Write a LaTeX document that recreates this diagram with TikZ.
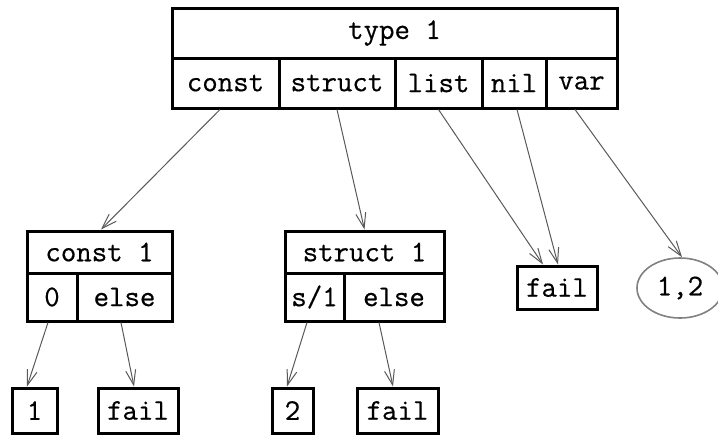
\documentclass[tikz,border=0pt]{standalone}
\usepackage{fontspec}
\newfontfamily\boxtt{Latin Modern Mono}[FakeBold=0.5]
\usetikzlibrary{arrows.meta,shapes.geometric}
\begin{document}
\begin{tikzpicture}[x=0.5pt,y=-0.5pt,
  cell/.style={draw,line width=1.5pt,inner sep=0pt,anchor=center,
    font=\boxtt\fontsize{15}{17}\selectfont},
  oval/.style={draw=gray,ellipse,line width=0.8pt,inner sep=0pt,anchor=center,
    font=\boxtt\fontsize{15}{17}\selectfont},
  arr/.style={draw=black!65,line width=0.5pt,-{Straight Barb[length=7.5pt,width=5pt]}}]
\useasboundingbox (0,0) rectangle (718,436);
% top box
\node[cell,minimum width=222.5pt,minimum height=25pt] (type) at (394.5,33) {type 1};
\node[cell,minimum width=53.5pt,minimum height=25pt] (const) at (225.5,83) {const};
\node[cell,minimum width=58pt,minimum height=25pt] (struct) at (337,83) {struct};
\node[cell,minimum width=43.5pt,minimum height=25pt] (list) at (438.5,83) {list};
\node[cell,minimum width=32pt,minimum height=25pt] (nil) at (514,83) {nil};
\node[cell,minimum width=35.5pt,minimum height=25pt] (var) at (581.5,83) {var};
% const 1 box
\node[cell,minimum width=72.5pt,minimum height=21pt] (c1h) at (99.5,252) {const 1};
\node[cell,minimum width=25pt,minimum height=24pt] (c1a) at (52,297) {0};
\node[cell,minimum width=47.5pt,minimum height=24pt] (c1b) at (124.5,297) {else};
% struct 1 box
\node[cell,minimum width=79.5pt,minimum height=21pt] (s1h) at (364.5,252) {struct 1};
\node[cell,minimum width=29.5pt,minimum height=24pt] (s1a) at (314.5,297) {s/1};
\node[cell,minimum width=50pt,minimum height=24pt] (s1b) at (394,297) {else};
% middle leaves
\node[cell,minimum width=40pt,minimum height=21.5pt] (failm) at (557,287.5) {fail};
\node[oval,minimum width=43pt,minimum height=30pt] (ell) at (680,288) {1,2};
% bottom leaves
\node[cell,minimum width=22.5pt,minimum height=22.5pt] (one) at (34.5,410.5) {1};
\node[cell,minimum width=40pt,minimum height=22.5pt] (failA) at (138,410.5) {fail};
\node[cell,minimum width=20.5pt,minimum height=22.5pt] (two) at (292.5,410.5) {2};
\node[cell,minimum width=40.5pt,minimum height=22.5pt] (failB) at (397.5,410.5) {fail};
% connectors
\draw[arr] ([xshift=-2.75pt]const.south) -- ([xshift=0.75pt]c1h.north);
\draw[arr] (struct.south) -- (s1h.north);
\draw[arr] (list.south) -- ([xshift=-7pt]failm.north);
\draw[arr] ([xshift=1.5pt]nil.south) -- ([xshift=0.5pt]failm.north);
\draw[arr] ([xshift=-3.25pt]var.south) -- ([xshift=1pt]ell.north);
\draw[arr] ([xshift=-2pt]c1a.south) -- ([xshift=-3.75pt]one.north);
\draw[arr] ([xshift=-1.75pt]c1b.south) -- ([xshift=-2pt]failA.north);
\draw[arr] ([xshift=-3.75pt]s1a.south) -- ([xshift=-2.75pt]two.north);
\draw[arr] ([xshift=-7.5pt]s1b.south) -- ([xshift=-2.25pt]failB.north);
\end{tikzpicture}
\end{document}
